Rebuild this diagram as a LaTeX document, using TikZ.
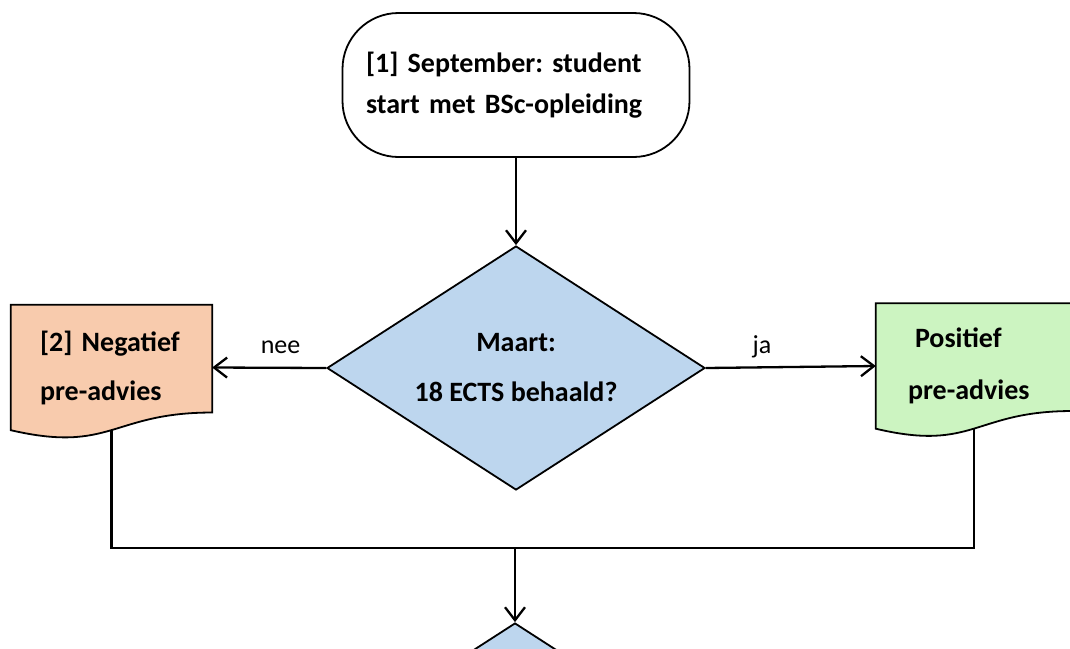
\documentclass[tikz,border=0pt]{standalone}
\usepackage{fontspec}
\setmainfont{Carlito}
\frenchspacing
\usetikzlibrary{arrows.meta,shapes.geometric,calc,backgrounds}
\definecolor{negfill}{RGB}{248,203,173}
\definecolor{posfill}{RGB}{204,244,193}
\definecolor{askfill}{RGB}{189,214,238}
\tikzset{
  every picture/.style={x=1pt,y=-1pt},
  outline/.style={draw,line width=1.8pt},
  term/.style={outline,rounded corners=56pt,minimum width=347pt,minimum height=144pt,
    text width=300pt,align=left,inner sep=0pt,font=\bfseries\fontsize{28}{41}\selectfont},
  ask/.style={outline,diamond,aspect=1.55,fill=askfill,minimum width=378pt,minimum height=244pt,
    inner sep=0pt,align=center,font=\bfseries\fontsize{28}{50}\selectfont},
  doc/.style={inner sep=0pt,minimum height=125pt,align=left,font=\bfseries\fontsize{28}{49}\selectfont},
  flow/.style={line width=2.3pt},
  arrowline/.style={flow,-{Straight Barb[length=13pt,width=20pt]}},
  answer/.style={font=\fontsize{26}{30}\selectfont,yshift=21pt},
}
\begin{document}
\begin{tikzpicture}
  \useasboundingbox (0,0) rectangle (1070,648);
  \clip (0,0) rectangle (1070,648);
  \node[term] (start) at (516,85) {[1] September: student\\start met BSc-opleiding};
  \node[ask] (ask) at (516,368) {Maart:\\18 ECTS behaald?};
  \node[ask] (next) at (515,745) {};
  \node[doc,minimum width=201pt,text width=143pt] (neg) at (111.5,367.5) {[2] Negatief\\pre-advies};
  \node[doc,minimum width=196pt,text width=132pt,font=\bfseries\fontsize{28}{52}\selectfont] (pos) at (974,366)
    {\hspace*{7pt}Positief\\pre-advies};
  % document shapes with the wavy bottom
  \begin{scope}[on background layer]
    \clip (0,0) rectangle (1070,648);
    \foreach \n/\c in {neg/negfill,pos/posfill}
      \filldraw[outline,fill=\c] (\n.north west) -- (\n.north east)
        -- ($(\n.north east)!0.859!(\n.south east)$)
        .. controls ($(\n.north)!0.859!(\n.south)$) and ($(\n.north)!1.186!(\n.south)$) .. (\n.south west)
        -- cycle;
  \end{scope}
  \draw[arrowline] (start) -- (ask);
  \draw[arrowline] (ask.west) -- node[answer,pos=0.4] (nee) {nee} (neg.east);
  \draw[arrowline] (ask.east) -- node[answer,pos=0.33] (ja) {ja} (pos.west);
  \coordinate (join) at (515,548);
  \draw[flow] (neg.south) |- (join) -| (pos.south);
  \draw[arrowline] (join) -- (next);
\end{tikzpicture}
\end{document}
